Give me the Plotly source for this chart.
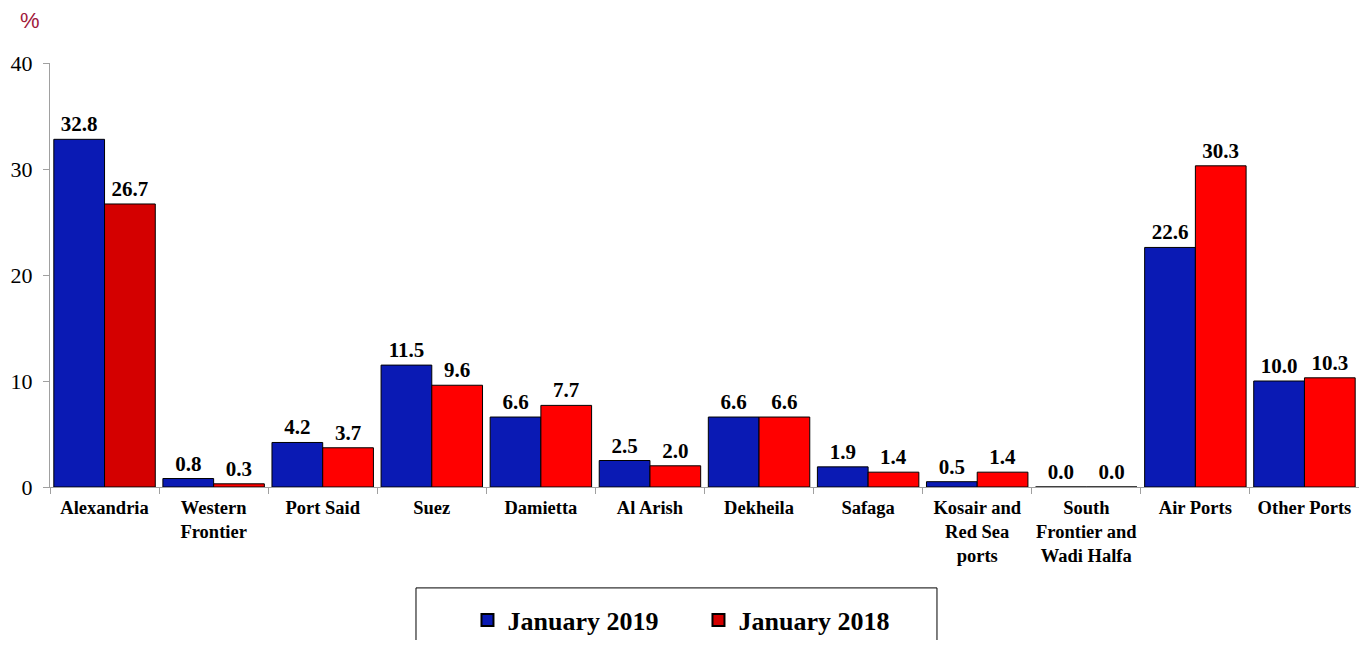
import plotly.graph_objects as go

categories = ["Alexandria", "Western<br>Frontier", "Port Said", "Suez", "Damietta", "Al Arish",
              "Dekheila", "Safaga", "Kosair and<br>Red Sea<br>ports", "South<br>Frontier and<br>Wadi Halfa",
              "Air Ports", "Other Ports"]
jan2019 = [32.8, 0.8, 4.2, 11.5, 6.6, 2.5, 6.6, 1.9, 0.5, 0.0, 22.6, 10.0]
jan2018 = [26.7, 0.3, 3.7, 9.6, 7.7, 2.0, 6.6, 1.4, 1.4, 0.0, 30.3, 10.3]

blue = "#0A1AB4"
red = "#FF0000"
red_colors = ["#D40000"] + [red] * (len(categories) - 1)

FONT = "Liberation Serif, Times New Roman, serif"

fig = go.Figure()
fig.add_trace(go.Bar(x=categories, y=jan2019, name="<b>January 2019</b>",
                     marker=dict(color=blue, line=dict(color="black", width=1)),
                     texttemplate="<b>%{y:.1f}</b>", textposition="outside",
                     textfont=dict(family=FONT, size=21, color="black"), cliponaxis=False))
fig.add_trace(go.Bar(x=categories, y=jan2018, name="<b>January 2018</b>",
                     marker=dict(color=red_colors, line=dict(color="black", width=1)),
                     texttemplate="<b>%{y:.1f}</b>", textposition="outside",
                     textfont=dict(family=FONT, size=21, color="black"), cliponaxis=False))

fig.update_layout(
    width=1351, height=632,
    margin=dict(l=42, r=0, t=55, b=153, autoexpand=False),
    plot_bgcolor="white", paper_bgcolor="white",
    barmode="group", bargap=0.07, bargroupgap=0,
    font=dict(family=FONT, color="black"),
    showlegend=True,
    legend=dict(orientation="h", x=0.4954, xanchor="center", y=-0.314, yanchor="middle",
                entrywidth=186, entrywidthmode="pixels",
                font=dict(family=FONT, size=26, color="black"),
                bgcolor="rgba(0,0,0,0)", itemsizing="constant", traceorder="normal"),
    shapes=[dict(type="rect", xref="paper", yref="paper", x0=0.2796, x1=0.6776,
                 y0=-0.238, y1=-0.5, line=dict(color="black", width=1), fillcolor="rgba(0,0,0,0)")],
    annotations=[dict(text="%", xref="paper", yref="paper", x=-0.015, y=1.0,
                      xanchor="center", yanchor="middle", yshift=43, showarrow=False,
                      font=dict(family="Liberation Sans, Arial, sans-serif", size=22, color="#A0193C"))],
)
fig.update_xaxes(type="category", showline=True, linecolor="#A0A0A0", linewidth=1,
                 ticks="outside", tickson="boundaries", ticklen=6, tickcolor="#A0A0A0",
                 tickangle=0, ticklabelstandoff=4,
                 tickfont=dict(family=FONT, size=18.5, color="black"), automargin=False,
                 tickprefix="<b>", ticksuffix="</b>", showgrid=False)
fig.update_yaxes(range=[0, 40], dtick=10, showline=True, linecolor="#A0A0A0", linewidth=1,
                 ticks="outside", ticklen=6, tickcolor="#A0A0A0", showgrid=False, zeroline=False,
                 automargin=False, ticklabelstandoff=6,
                 tickfont=dict(family=FONT, size=22, color="black"))

fig.write_html("out.html")
